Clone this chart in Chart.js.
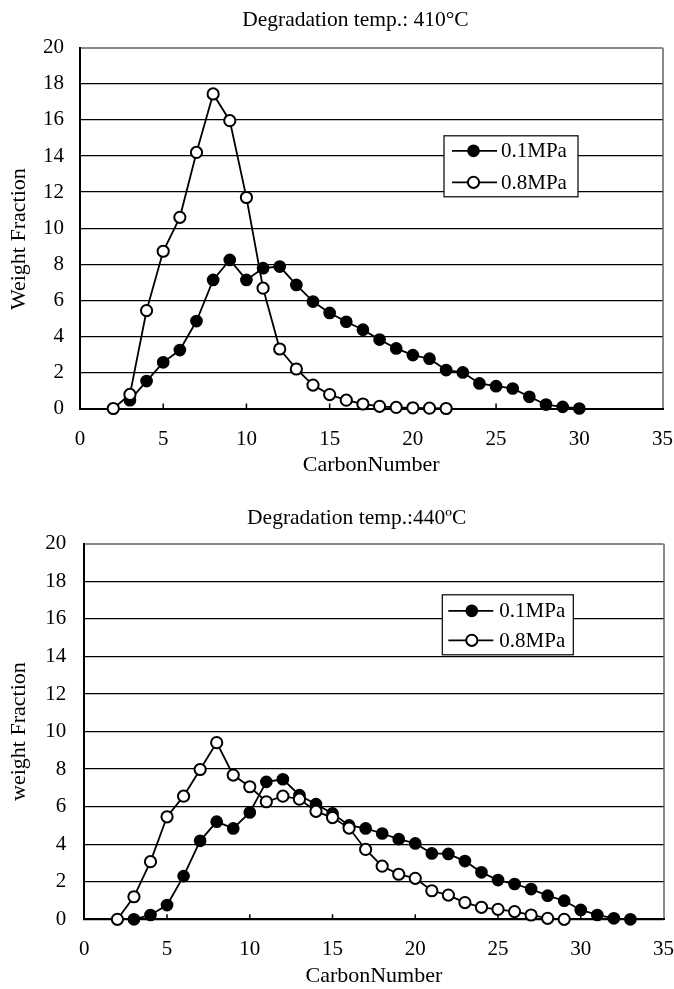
<!DOCTYPE html>
<html>
<head>
<meta charset="utf-8">
<script src="https://cdn.jsdelivr.net/npm/chart.js@4/dist/chart.umd.min.js"></script>
<style>
  html, body { margin: 0; padding: 0; background: #fff; overflow: hidden; }
  canvas { display: block; }
</style>
</head>
<body>
<canvas id="chart410" width="674" height="490"></canvas>
<canvas id="chart440" width="674" height="499"></canvas>
<script>
// 410 C
const carbon410low = [3, 4, 5, 6, 7, 8, 9, 10, 11, 12, 13, 14, 15, 16, 17, 18, 19, 20, 21, 22, 23, 24, 25, 26, 27, 28, 29, 30];
const wf410low = [0.46, 1.52, 2.56, 3.24, 4.85, 7.13, 8.24, 7.13, 7.78, 7.87, 6.85, 5.93, 5.3, 4.81, 4.37, 3.82, 3.33, 2.96, 2.76, 2.13, 2.0, 1.39, 1.24, 1.11, 0.65, 0.22, 0.09, 0.0];
const carbon410high = [2, 3, 4, 5, 6, 7, 8, 9, 10, 11, 12, 13, 14, 15, 16, 17, 18, 19, 20, 21, 22];
const wf410high = [0, 0.78, 5.43, 8.72, 10.6, 14.2, 17.44, 15.96, 11.7, 6.67, 3.3, 2.19, 1.3, 0.77, 0.46, 0.25, 0.12, 0.06, 0.04, 0.02, 0.0];

// 440 C
const carbon440low = [3, 4, 5, 6, 7, 8, 9, 10, 11, 12, 13, 14, 15, 16, 17, 18, 19, 20, 21, 22, 23, 24, 25, 26, 27, 28, 29, 30, 31, 32, 33];
const wf440low = [0, 0.23, 0.76, 2.3, 4.18, 5.2, 4.84, 5.69, 7.32, 7.46, 6.61, 6.13, 5.64, 5.0, 4.84, 4.57, 4.27, 4.04, 3.51, 3.48, 3.1, 2.5, 2.09, 1.88, 1.61, 1.26, 0.99, 0.5, 0.23, 0.05, 0];
const carbon440high = [2, 3, 4, 5, 6, 7, 8, 9, 10, 11, 12, 13, 14, 15, 16, 17, 18, 19, 20, 21, 22, 23, 24, 25, 26, 27, 28, 29];
const wf440high = [0, 1.2, 3.07, 5.46, 6.56, 7.98, 9.41, 7.68, 7.06, 6.26, 6.56, 6.4, 5.75, 5.42, 4.86, 3.72, 2.83, 2.4, 2.18, 1.52, 1.29, 0.89, 0.64, 0.53, 0.41, 0.23, 0.05, 0];

const seriesLabels = ["0.1MPa", "0.8MPa"];
const xTicks = [0, 5, 10, 15, 20, 25, 30, 35];
const yTicks = [0, 2, 4, 6, 8, 10, 12, 14, 16, 18, 20];

const serif = "'Liberation Serif', 'Times New Roman', serif";

function points(xs, ys) {
  return xs.map((x, i) => ({ x, y: ys[i] }));
}

function series(label, xs, ys, filled, order) {
  return {
    label,
    data: points(xs, ys),
    borderColor: "#000",
    borderWidth: 1.8,
    pointRadius: 5.6,
    pointHoverRadius: 5.6,
    pointBorderWidth: filled ? 1.5 : 2,
    pointBackgroundColor: filled ? "#000" : "#fff",
    pointBorderColor: "#000",
    tension: 0,
    clip: false,
    order,
  };
}

// legend drawn inside the plot, line + marker + text
const boxLegend = {
  id: "boxLegend",
  afterDatasetsDraw(chart, args, o) {
    const { ctx, chartArea } = chart;
    const x0 = chartArea.left + o.left;
    const y0 = chartArea.top + o.top;
    ctx.save();
    ctx.fillStyle = "#fff";
    ctx.fillRect(x0, y0, o.width, o.height);
    ctx.strokeStyle = "#000";
    ctx.lineWidth = 1.2;
    ctx.strokeRect(x0, y0, o.width, o.height);
    chart.data.datasets.forEach((ds, i) => {
      const cy = y0 + o.rows[i];
      ctx.beginPath();
      ctx.moveTo(x0 + o.lineFrom, cy);
      ctx.lineTo(x0 + o.lineTo, cy);
      ctx.lineWidth = ds.borderWidth;
      ctx.strokeStyle = ds.borderColor;
      ctx.stroke();
      ctx.beginPath();
      ctx.arc(x0 + o.marker, cy, ds.pointRadius, 0, Math.PI * 2);
      ctx.fillStyle = ds.pointBackgroundColor;
      ctx.fill();
      ctx.lineWidth = ds.pointBorderWidth;
      ctx.stroke();
      ctx.fillStyle = "#000";
      ctx.font = "21px " + serif;
      ctx.textBaseline = "middle";
      ctx.fillText(ds.label, x0 + o.text, cy + 1);
    });
    ctx.restore();
  },
};

// short tick marks pointing up into the plot
const innerTicks = {
  id: "innerTicks",
  beforeDatasetsDraw(chart) {
    const { ctx, chartArea, scales } = chart;
    ctx.save();
    ctx.strokeStyle = "#000";
    ctx.lineWidth = 1.5;
    scales.x.ticks.forEach((t) => {
      if (t.value <= 0 || t.value >= 35) return;
      const px = scales.x.getPixelForValue(t.value);
      ctx.beginPath();
      ctx.moveTo(px, chartArea.bottom);
      ctx.lineTo(px, chartArea.bottom - 5);
      ctx.stroke();
    });
    ctx.restore();
  },
};

function buildChart(id, cfg) {
  return new Chart(document.getElementById(id), {
    type: "line",
    data: {
      datasets: [
        series(seriesLabels[0], cfg.lowX, cfg.lowY, true, 1),
        series(seriesLabels[1], cfg.highX, cfg.highY, false, 0),
      ],
    },
    options: {
      responsive: false,
      animation: false,
      events: [],
      layout: { padding: cfg.padding },
      plugins: {
        legend: { display: false },
        tooltip: { enabled: false },
        title: {
          display: true,
          text: cfg.title,
          color: "#000",
          font: { family: serif, size: 21.5, weight: "normal" },
          padding: cfg.titlePadding,
        },
        boxLegend: cfg.legend,
      },
      scales: {
        x: {
          type: "linear",
          min: 0,
          max: 35,
          afterBuildTicks: (s) => { s.ticks = xTicks.map((v) => ({ value: v })); },
          ticks: { color: "#000", font: { family: serif, size: 21 }, padding: 0, maxRotation: 0 },
          grid: {
            drawTicks: true,
            tickLength: 18,
            tickColor: "rgba(0,0,0,0)",
            color: (c) => (c.tick && c.tick.value === 35 ? "#8a8a8a" : "rgba(0,0,0,0)"),
            lineWidth: 2,
          },
          border: { color: "#000", width: 2 },
          title: {
            display: true,
            text: "CarbonNumber",
            color: "#000",
            font: { family: serif, size: 22 },
            padding: { top: 0, bottom: 0 },
          },
          afterFit: (s) => { s.height = cfg.xHeight; },
        },
        y: {
          min: 0,
          max: 20,
          afterBuildTicks: (s) => { s.ticks = yTicks.map((v) => ({ value: v })); },
          ticks: { color: "#000", font: { family: serif, size: 21 }, padding: cfg.yPad },
          grid: {
            drawTicks: false,
            color: (c) => (c.tick && c.tick.value === 20 ? "#8a8a8a" : "#000"),
            lineWidth: (c) => (c.tick && c.tick.value === 20 ? 2 : 1.2),
          },
          border: { color: "#000", width: 2 },
          title: {
            display: true,
            text: cfg.yTitle,
            color: "#000",
            font: { family: serif, size: 22 },
            padding: { top: 6, bottom: 0 },
          },
          afterFit: (s) => { s.width = cfg.yWidth; },
        },
      },
    },
    plugins: [innerTicks, boxLegend],
  });
}

// leading / trailing spaces nudge the titles to where they sit in the original
buildChart("chart410", {
  title: "         Degradation temp.: 410°C",
  yTitle: "Weight Fraction    ",
  lowX: carbon410low, lowY: wf410low,
  highX: carbon410high, highY: wf410high,
  padding: { left: 0, right: 11.5, top: 0, bottom: 11.5 },
  titlePadding: { top: 7, bottom: 15 },
  xHeight: 70,
  yWidth: 80,
  yPad: 16,
  legend: { left: 364, top: 88, width: 134, height: 61, rows: [15, 46.5], lineFrom: 8, lineTo: 53, marker: 29.5, text: 57 },
});

buildChart("chart440", {
  title: "         Degradation temp.:440ºC",
  yTitle: "weight Fraction",
  lowX: carbon440low, lowY: wf440low,
  highX: carbon440high, highY: wf440high,
  padding: { left: 0, right: 9, top: 0, bottom: 0 },
  titlePadding: { top: 15, bottom: 13 },
  xHeight: 69.7,
  yWidth: 84.3,
  yPad: 18,
  legend: { left: 358, top: 51, width: 131, height: 60, rows: [16, 45.5], lineFrom: 6, lineTo: 51, marker: 29.5, text: 57 },
});
</script>
</body>
</html>
